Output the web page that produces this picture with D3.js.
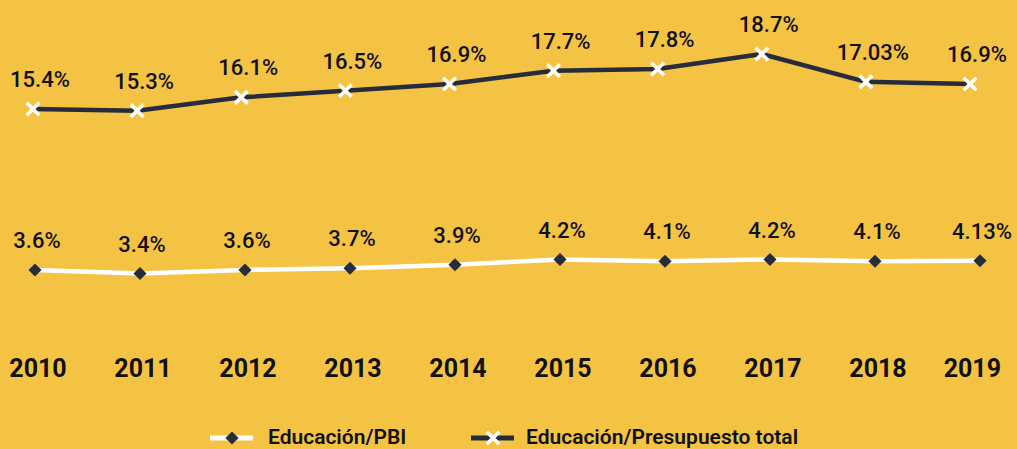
<!DOCTYPE html>
<html>
<head>
<meta charset="utf-8">
<script src="https://cdn.jsdelivr.net/npm/d3@7"></script>
<style>
  html, body { margin: 0; padding: 0; background: #F5C343; }
  svg { display: block; }
  text { font-family: Roboto, "Noto Sans", Arial, sans-serif; }
</style>
</head>
<body>
<svg id="chart" width="1017" height="449"></svg>
<script>
// ---- data ----
const years = ["2010","2011","2012","2013","2014","2015","2016","2017","2018","2019"];
const presupuesto = [15.4, 15.3, 16.1, 16.5, 16.9, 17.7, 17.8, 18.7, 17.03, 16.9];
const presupuestoLabels = ["15.4%","15.3%","16.1%","16.5%","16.9%","17.7%","17.8%","18.7%","17.03%","16.9%"];
const pbi = [3.6, 3.4, 3.6, 3.7, 3.9, 4.2, 4.1, 4.2, 4.1, 4.13];
const pbiLabels = ["3.6%","3.4%","3.6%","3.7%","3.9%","4.2%","4.1%","4.2%","4.1%","4.13%"];
const seriesNames = ["Educación/PBI", "Educación/Presupuesto total"];

// ---- layout / style ----
const W = 1017, H = 449;
const BG = "#F5C343", NAVY = "#272C3D", WHITE = "#FFFFFF", INK = "#111111";

const svg = d3.select("#chart");
svg.append("rect").attr("width", W).attr("height", H).attr("fill", BG);

const xTop = d3.scalePoint().domain(years).range([33, 970]);
const xBot = d3.scalePoint().domain(years).range([35, 980]);
const yTop = d3.scaleLinear().domain([15.4, 18.7]).range([109, 54]);
const yBot = d3.scaleLinear().domain([3.4, 4.2]).range([273.5, 259.5]);

const topData = years.map((y, i) => ({ year: y, v: presupuesto[i], label: presupuestoLabels[i] }));
const botData = years.map((y, i) => ({ year: y, v: pbi[i], label: pbiLabels[i] }));

// ---- top line (Educación/Presupuesto total) ----
const lineTop = d3.line().x(d => xTop(d.year)).y(d => yTop(d.v));
svg.append("path").datum(topData)
  .attr("d", lineTop).attr("fill", "none")
  .attr("stroke", NAVY).attr("stroke-width", 4.5).attr("stroke-linejoin", "round");

function xMark(g, cx, cy, r) {
  g.append("path")
    .attr("d", `M${cx - r},${cy - r}L${cx + r},${cy + r}M${cx - r},${cy + r}L${cx + r},${cy - r}`)
    .attr("stroke", WHITE).attr("stroke-width", 3.6).attr("fill", "none");
}
const topMarks = svg.append("g");
topData.forEach(d => xMark(topMarks, xTop(d.year), yTop(d.v), 6.3));

svg.append("g").selectAll("text").data(topData).join("text")
  .attr("x", d => xTop(d.year) + 7)
  .attr("y", d => yTop(d.v) - 30 + 8)
  .attr("text-anchor", "middle")
  .attr("font-size", 22).attr("font-weight", 500).attr("fill", INK)
  .text(d => d.label);

// ---- bottom line (Educación/PBI) ----
const lineBot = d3.line().x(d => xBot(d.year)).y(d => yBot(d.v));
svg.append("path").datum(botData)
  .attr("d", lineBot).attr("fill", "none")
  .attr("stroke", WHITE).attr("stroke-width", 4.5).attr("stroke-linejoin", "round");

const diamond = d3.symbol().type(d3.symbolDiamond2).size(110);
svg.append("g").selectAll("path").data(botData).join("path")
  .attr("d", diamond)
  .attr("transform", d => `translate(${xBot(d.year)},${yBot(d.v)})`)
  .attr("fill", NAVY);

svg.append("g").selectAll("text").data(botData).join("text")
  .attr("x", d => xBot(d.year) + 2)
  .attr("y", d => yBot(d.v) - 30 + 8)
  .attr("text-anchor", "middle")
  .attr("font-size", 22).attr("font-weight", 500).attr("fill", INK)
  .text(d => d.label);

// ---- year axis labels ----
const axisG = svg.append("g");
axisG.selectAll("text").data(years).join("text")
  .attr("x", d => xBot(d) + 3)
  .attr("y", 377)
  .attr("text-anchor", "middle")
  .attr("font-size", 25).attr("font-weight", 700).attr("fill", INK)
  .text(d => d)
  .each(function () {
    const w = this.getComputedTextLength();
    const x = +this.getAttribute("x");
    const maxX = W - 16 - w / 2;
    if (x > maxX) this.setAttribute("x", maxX);
  });

// ---- legend ----
const leg = svg.append("g");
const legY = 438;
// PBI
leg.append("line").attr("x1", 210).attr("x2", 253).attr("y1", legY).attr("y2", legY)
  .attr("stroke", WHITE).attr("stroke-width", 5);
leg.append("path").attr("d", diamond).attr("transform", `translate(232,${legY})`).attr("fill", NAVY);
leg.append("text").attr("x", 268).attr("y", legY + 6)
  .attr("font-size", 21).attr("font-weight", 600).attr("fill", INK).text(seriesNames[0]);
// Presupuesto
leg.append("line").attr("x1", 471).attr("x2", 514).attr("y1", legY).attr("y2", legY)
  .attr("stroke", NAVY).attr("stroke-width", 5);
xMark(leg, 493, legY, 6.3);
leg.append("text").attr("x", 526).attr("y", legY + 6)
  .attr("font-size", 21).attr("font-weight", 600).attr("fill", INK).text(seriesNames[1]);
</script>
</body>
</html>
